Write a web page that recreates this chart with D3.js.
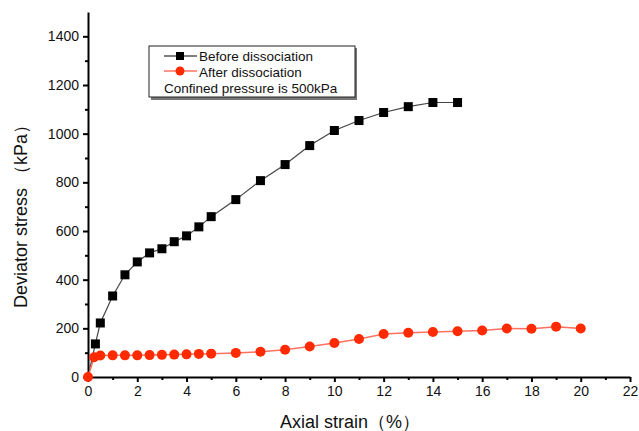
<!DOCTYPE html>
<html>
<head>
<meta charset="utf-8">
<script src="https://cdn.jsdelivr.net/npm/d3@7"></script>
<style>
  body { margin: 0; background: #fff; }
  text { font-family: "Liberation Sans", Arial, sans-serif; fill: #111; }
</style>
</head>
<body>
<div id="chart"></div>
<script>
// values
const beforeStrain = [0, 0.3, 0.5, 1, 1.5, 2, 2.5, 3, 3.5, 4, 4.5, 5, 6, 7, 8, 9, 10, 11, 12, 13, 14, 15];
const beforeStress = [0, 136, 222, 333, 420, 473, 510, 527, 556, 580, 617, 659, 729, 807, 873, 951, 1013, 1054, 1087, 1111, 1128, 1128];
const afterStrain = [0, 0.25, 0.5, 1, 1.5, 2, 2.5, 3, 3.5, 4, 4.5, 5, 6, 7, 8, 9, 10, 11, 12, 13, 14, 15, 16, 17, 18, 19, 20];
const afterStress = [0, 81, 88, 89, 89, 89, 90, 91, 92, 93, 95, 96, 99, 104, 112, 125, 140, 156, 177, 182, 185, 188, 191, 199, 198, 207, 199];
const xTicks = [0, 2, 4, 6, 8, 10, 12, 14, 16, 18, 20, 22];
const yTicks = [0, 200, 400, 600, 800, 1000, 1200, 1400];
const legendLabels = ["Before dissociation", "After dissociation", "Confined pressure is 500kPa"];

const W = 639, H = 431;
const margin = {top: 12, right: 9, bottom: 54, left: 88};
const width = W - margin.left - margin.right;
const height = H - margin.top - margin.bottom;

const svg = d3.select("#chart").append("svg")
  .attr("width", W)
  .attr("height", H);

const g = svg.append("g")
  .attr("transform", `translate(${margin.left}, ${margin.top})`);

const x = d3.scaleLinear().domain([0, 22]).range([0, width]);
const y = d3.scaleLinear().domain([0, 1500]).range([height, 0]);

// minor ticks first
g.append("g")
  .attr("transform", `translate(0, ${height})`)
  .call(d3.axisBottom(x).tickValues(d3.range(1, 22, 2)).tickSize(3).tickFormat(""))
  .call(a => a.select(".domain").remove())
  .selectAll("line").attr("stroke-width", 2);

g.append("g")
  .call(d3.axisLeft(y).tickValues(d3.range(100, 1500, 200)).tickSize(3).tickFormat(""))
  .call(a => a.select(".domain").remove())
  .selectAll("line").attr("stroke-width", 2);

const xAxis = g.append("g")
  .attr("transform", `translate(0, ${height})`)
  .call(d3.axisBottom(x).tickValues(xTicks).tickSize(5).tickSizeOuter(0).tickPadding(4));

const yAxis = g.append("g")
  .call(d3.axisLeft(y).tickValues(yTicks).tickFormat(d3.format("d")).tickSize(5).tickSizeOuter(0).tickPadding(4));

[xAxis, yAxis].forEach(a => {
  a.select(".domain").attr("stroke-width", 2);
  a.selectAll(".tick line").attr("stroke-width", 2);
  a.selectAll(".tick text")
    .style("font-family", "'Liberation Sans', Arial, sans-serif")
    .style("font-size", "14px")
    .attr("fill", "#111");
});

// axis titles
svg.append("text")
  .attr("x", 350)
  .attr("y", 428)
  .attr("text-anchor", "middle")
  .style("font-size", "18px")
  .text("Axial strain（%）");

svg.append("text")
  .attr("transform", "translate(27, 212) rotate(-90)")
  .attr("text-anchor", "middle")
  .style("font-size", "18px")
  .text("Deviator stress （kPa）");

const before = beforeStrain.map((d, i) => [d, beforeStress[i]]);
const after = afterStrain.map((d, i) => [d, afterStress[i]]);

const line = d3.line()
  .x(d => x(d[0]))
  .y(d => y(d[1]));

g.append("path")
  .datum(before)
  .attr("d", line)
  .attr("fill", "none")
  .attr("stroke", "#444")
  .attr("stroke-width", 1.2);

g.selectAll(".sq")
  .data(before.slice(1))
  .enter().append("rect")
  .attr("class", "sq")
  .attr("x", d => x(d[0]) - 4.5)
  .attr("y", d => y(d[1]) - 4.5)
  .attr("width", 9)
  .attr("height", 9)
  .attr("fill", "#000");

g.append("path")
  .datum(after)
  .attr("d", line)
  .attr("fill", "none")
  .attr("stroke", "#ff7060")
  .attr("stroke-width", 1.5);

g.selectAll(".dot")
  .data(after)
  .enter().append("circle")
  .attr("class", "dot")
  .attr("cx", d => x(d[0]))
  .attr("cy", d => y(d[1]))
  .attr("r", 5)
  .attr("fill", "#ff2a00");

// legend
const lg = svg.append("g").attr("transform", "translate(149, 46)");
lg.append("rect")
  .attr("x", 2).attr("y", 2)
  .attr("width", 206).attr("height", 52)
  .attr("fill", "#777");
lg.append("rect")
  .attr("width", 206).attr("height", 51)
  .attr("fill", "#fff")
  .attr("stroke", "#222")
  .attr("stroke-width", 1);

lg.append("line").attr("x1", 15).attr("x2", 48).attr("y1", 10).attr("y2", 10)
  .attr("stroke", "#000").attr("stroke-width", 1.2);
lg.append("rect").attr("x", 27).attr("y", 6).attr("width", 8).attr("height", 8).attr("fill", "#000");
lg.append("line").attr("x1", 15).attr("x2", 48).attr("y1", 25).attr("y2", 25)
  .attr("stroke", "#ff7060").attr("stroke-width", 1.5);
lg.append("circle").attr("cx", 31).attr("cy", 25).attr("r", 4.5).attr("fill", "#ff2a00");

lg.selectAll(".lt")
  .data(legendLabels)
  .enter().append("text")
  .attr("class", "lt")
  .attr("x", (d, i) => i < 2 ? 50 : 15)
  .attr("y", (d, i) => 15 + i * 16)
  .style("font-size", "13.5px")
  .text(d => d);
</script>
</body>
</html>
